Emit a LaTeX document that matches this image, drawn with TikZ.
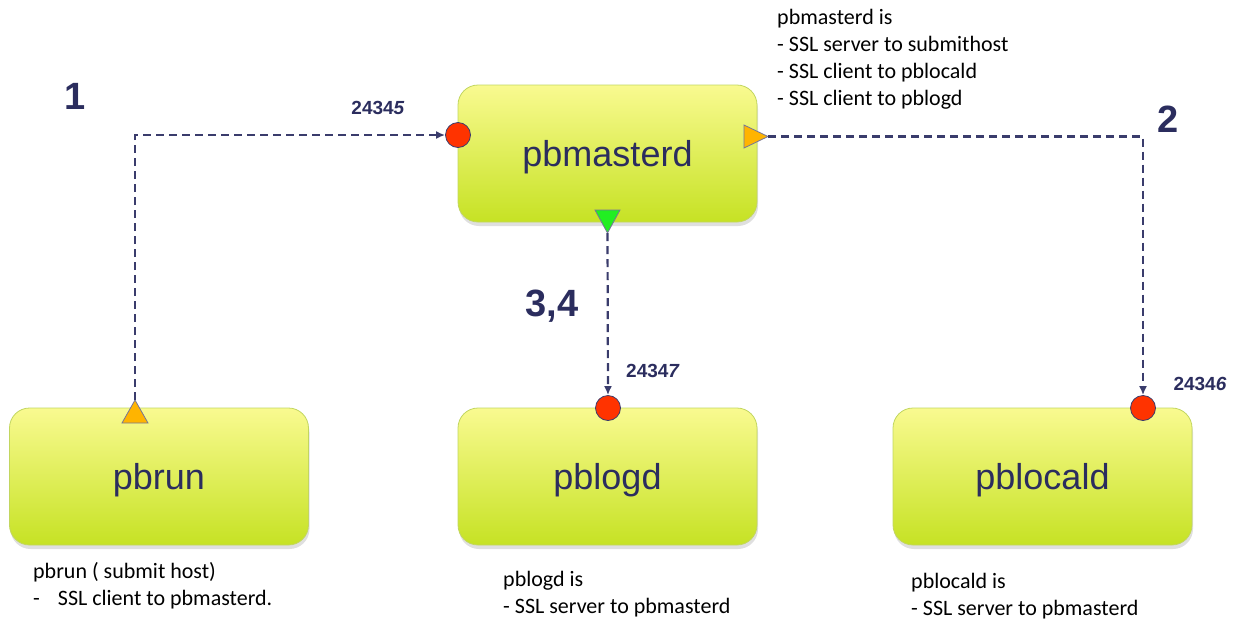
\documentclass[tikz,border=0pt]{standalone}
\usepackage{fontspec}
\setmainfont{Liberation Sans}
\newfontfamily\calfont{Carlito}
\usetikzlibrary{arrows.meta,shadows}
\definecolor{navy}{HTML}{2B2D5E}
\definecolor{linecol}{HTML}{3A3C6C}
\definecolor{boxtop}{HTML}{F9FA90}
\definecolor{boxbot}{HTML}{C6E224}
\definecolor{boxedge}{HTML}{C2D660}
\definecolor{portred}{HTML}{FF3300}
\definecolor{portorange}{HTML}{FFB400}
\definecolor{portgreen}{HTML}{22EE22}
\newcommand{\boxlabel}[1]{\raisebox{-4pt}[\height][\depth]{#1}}
\tikzset{
  proc/.style={rectangle, rounded corners=20pt, minimum width=299pt, minimum height=137pt,
    top color=boxtop, bottom color=boxbot, draw=boxedge, line width=0.8pt, text=navy,
    font=\fontsize{36}{40}\selectfont,
    drop shadow={opacity=0.25, shadow xshift=1pt, shadow yshift=-4pt}},
  port/.style={circle, fill=portred, draw=linecol, line width=0.8pt, minimum size=25pt, inner sep=0pt},
  conn/.style={draw=linecol, line width=2.2pt, dash pattern=on 8pt off 5pt, -{Latex[length=9pt,width=8pt]}},
  stepnum/.style={font=\bfseries\fontsize{38}{40}\selectfont, text=navy},
  portnum/.style={font=\bfseries\fontsize{19}{20}\selectfont, text=navy},
  desc/.style={font=\calfont\fontsize{22}{27}\selectfont, align=left, anchor=north west, inner sep=0pt},
  tri/.style={draw=linecol!70, line width=0.8pt},
}
\begin{document}
\begin{tikzpicture}[x=1pt,y=-1pt]
\useasboundingbox (0,0) rectangle (1235,625);
% process boxes
\node[proc] (master) at (607.5,153.5) {\boxlabel{pbmasterd}};
\node[proc] (run) at (159,476.5) {\boxlabel{pbrun}};
\node[proc] (logd) at (607.5,476.5) {\boxlabel{pblogd}};
\node[proc] (locald) at (1042.5,476.5) {\boxlabel{pblocald}};
% ports
\node[port] (mcirc) at (458,135) {};
\node[port] (lgcirc) at (608,408) {};
\node[port] (lccirc) at (1143,408) {};
\draw[tri, fill=portorange] (744,125) -- (768,136.5) -- (744,148) -- cycle;
\coordinate (mtri) at (768,136.5);
\draw[tri, fill=portgreen] (595,210) -- (620,210) -- (607.5,233) -- cycle;
\coordinate (gtri) at (607.5,233);
\draw[tri, fill=portorange] (122,423) -- (148,423) -- (135,400) -- cycle;
\coordinate (rtri) at (135,400);
% connectors
\draw[conn] (rtri) |- (mcirc.west);
\draw[conn] (mtri) -| (lccirc.north);
\draw[conn] (gtri) -- (lgcirc.north);
% step numbers
\node[stepnum] (s1) at (75,96) {1};
\node[stepnum] (s2) at (1168,119) {2};
\node[stepnum] (s34) at (552,306) {3,4};
% port numbers
\node[portnum] (p5) at (378,108) {2434\textit{5}};
\node[portnum] (p7) at (653,371) {2434\textit{7}};
\node[portnum] (p6) at (1200,384) {2434\textit{6}};
% descriptions
\node[desc] (dmaster) at (777,9) {pbmasterd is\\- SSL server to submithost\\- SSL client to pblocald\\- SSL client to pblogd};
\node[desc] (drun) at (33,562) {pbrun ( submit host)\\-\hspace{18pt}SSL client to pbmasterd.};
\node[desc] (dlogd) at (503,571) {pblogd is\\- SSL server to pbmasterd};
\node[desc] (dlocald) at (911,573) {pblocald is\\- SSL server to pbmasterd};
\end{tikzpicture}
\end{document}
